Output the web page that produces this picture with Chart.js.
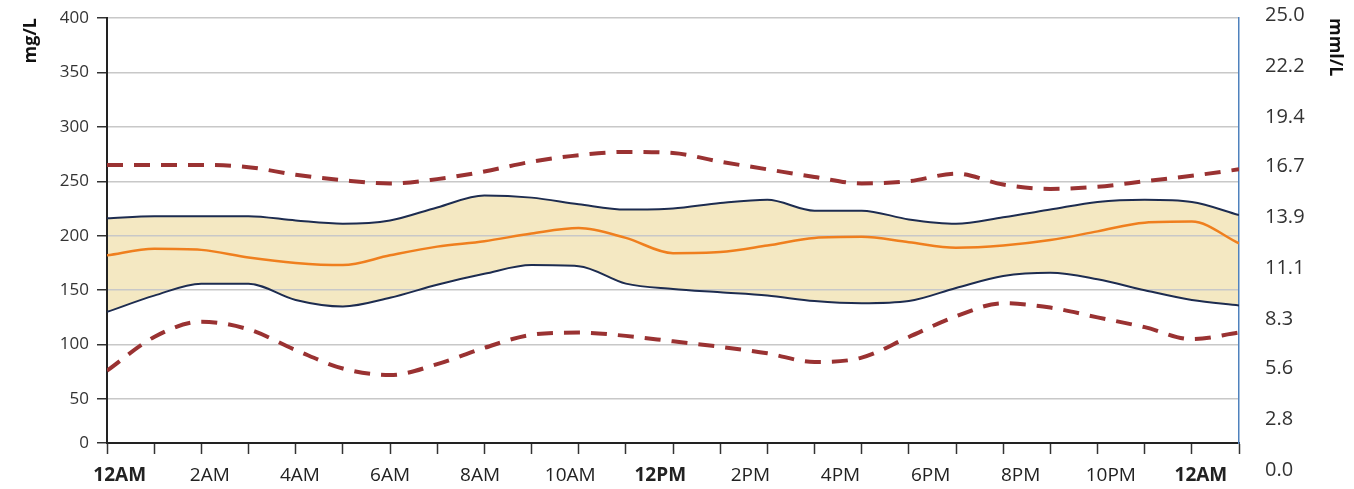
<!DOCTYPE html>
<html>
<head>
<meta charset="utf-8">
<title>Daily glucose profile</title>
<script src="https://cdn.jsdelivr.net/npm/chart.js@4/dist/chart.umd.min.js"></script>
<style>
    html, body { margin: 0; padding: 0; background: #ffffff; }
    #chartBox { position: relative; width: 1354px; height: 489px; }
</style>
</head>
<body>
<div id="chartBox"><canvas id="glucoseChart"></canvas></div>
<script>
// Hour of the day for every reading (0 = midnight, 24 = next midnight)
const hours = [0, 1, 2, 3, 4, 5, 6, 7, 8, 9, 10, 11, 12, 13, 14, 15, 16, 17, 18, 19, 20, 21, 22, 23, 24];

// Outer (dashed) limits, mg/L
const upperDashed = [265, 265, 265, 263, 256, 251, 248, 252, 259, 268, 274, 277, 276, 268, 261, 254, 248, 250, 257, 247, 243, 245, 250, 255, 261];
const lowerDashed = [76, 107, 121, 114, 95, 78, 72, 82, 97, 109, 111, 108, 103, 98, 92, 84, 88, 107, 126, 138, 134, 125, 116, 105, 111];

// Inner band (solid navy lines) and median (orange), mg/L
const upperBand = [216, 218, 218, 218, 214, 211, 214, 226, 237, 235, 229, 224, 225, 230, 233, 223, 223, 215, 211, 217, 224, 231, 233, 231, 219];
const median = [182, 188, 187, 180, 175, 173, 182, 190, 195, 202, 207, 198, 184, 185, 191, 198, 199, 194, 189, 191, 196, 204, 212, 213, 193];
const lowerBand = [130, 145, 156, 156, 141, 135, 143, 155, 165, 173, 172, 156, 151, 148, 145, 140, 138, 140, 152, 163, 166, 160, 150, 141, 136];

// Tick labels
const mgTicks = [0, 50, 100, 150, 200, 250, 300, 350, 400];
const mmolTicks = [0.0, 2.8, 5.6, 8.3, 11.1, 13.9, 16.7, 19.4, 22.2, 25.0];
const timeLabels = ['12AM', '2AM', '4AM', '6AM', '8AM', '10AM', '12PM', '2PM', '4PM', '6PM', '8PM', '10PM', '12AM'];

const FONT = "'Open Sans', 'DejaVu Sans', sans-serif";
const NAVY = '#1d2c50';
const MAROON = '#9a3232';

// the drawn x axis sits a little above the 0 gridline position of the picture
const mgAxisMin = 9.6;

/**
 * Pair the hourly values with their hour for a linear x scale
 * @param {Array} values - one value per hour
 * @returns {Array} points
 */
function toPoints(values) {
    return values.map((v, i) => ({ x: hours[i], y: v }));
}

function lineDataset(label, values, color, width, extra = {}) {
    return {
        label: label,
        data: toPoints(values),
        borderColor: color,
        borderWidth: width,
        pointRadius: 0,
        cubicInterpolationMode: 'monotone',
        fill: false,
        ...extra
    };
}

/**
 * Fix the size of a vertical axis and drop the label overhang padding,
 * so the plot area lands where it is in the picture
 */
function fixWidth(width) {
    return (scale) => {
        scale.width = width;
        scale.paddingTop = 0;
        scale.paddingBottom = 0;
    };
}

const ctx = document.getElementById('glucoseChart').getContext('2d');

new Chart(ctx, {
    type: 'line',
    data: {
        datasets: [
            lineDataset('Upper limit', upperDashed, MAROON, 4, { borderDash: [16, 11] }),
            lineDataset('Upper band', upperBand, NAVY, 2, { fill: '+2', backgroundColor: '#f4e8c2' }),
            lineDataset('Median', median, '#ef7f1e', 2.5),
            lineDataset('Lower band', lowerBand, NAVY, 2),
            lineDataset('Lower limit', lowerDashed, MAROON, 4, { borderDash: [16, 11] })
        ]
    },
    options: {
        responsive: true,
        maintainAspectRatio: false,
        animation: false,
        layout: { padding: { top: 18, left: 0, right: 0, bottom: 0 } },
        plugins: {
            legend: { display: false },
            tooltip: { enabled: false },
            filler: { drawTime: 'beforeDraw' }
        },
        scales: {
            // hourly tick marks under the plot
            x: {
                type: 'linear',
                position: 'bottom',
                weight: 0,
                min: 0,
                max: 24,
                ticks: { display: false, stepSize: 1 },
                grid: { drawOnChartArea: false, drawTicks: true, tickLength: 11, tickColor: '#333', tickWidth: 1.5 },
                border: { color: '#222', width: 2 },
                afterFit: (scale) => { scale.height = 11; }
            },
            // time labels, one every two hours
            xl: {
                type: 'linear',
                position: 'bottom',
                weight: 1,
                min: -0.141,
                max: 12.423,
                afterBuildTicks: (scale) => {
                    scale.ticks = timeLabels.map((t, i) => ({ value: i }));
                },
                ticks: {
                    autoSkip: false,
                    maxRotation: 0,
                    padding: 10,
                    color: '#222',
                    font: (c) => ({
                        family: FONT,
                        size: 19,
                        weight: /^12/.test(timeLabels[c.index]) ? 'bold' : 'normal'
                    }),
                    callback: (value, index) => timeLabels[index]
                },
                grid: { display: false, drawTicks: false },
                border: { display: false },
                afterFit: (scale) => { scale.height = 35; }
            },
            y: {
                type: 'linear',
                position: 'left',
                min: mgAxisMin,
                max: 400,
                afterBuildTicks: (scale) => {
                    scale.ticks = mgTicks.map(v => ({ value: Math.max(v, mgAxisMin) }));
                },
                ticks: {
                    padding: 8,
                    color: '#333',
                    font: { family: FONT, size: 17 },
                    callback: (value, index) => String(mgTicks[index])
                },
                grid: { color: '#c8c8c8', lineWidth: 1.5, tickLength: 10, tickColor: '#333', tickWidth: 1.5 },
                border: { color: '#222', width: 2 },
                title: {
                    display: true,
                    text: 'mg/L',
                    align: 'end',
                    color: '#111',
                    font: { family: FONT, size: 18, weight: 'bold' },
                    padding: { top: 20, bottom: 0 }
                },
                afterFit: fixWidth(107)
            },
            y1: {
                type: 'linear',
                position: 'right',
                min: 1.48,
                max: 24.84,
                afterBuildTicks: (scale) => {
                    scale.ticks = mmolTicks.map(v => ({ value: v }));
                },
                ticks: {
                    padding: 26,
                    color: '#333',
                    font: { family: FONT, size: 20 },
                    callback: (value) => Number(value).toFixed(1)
                },
                grid: { display: false, drawTicks: false },
                border: { color: '#4f81bd', width: 1.5 },
                title: {
                    display: true,
                    text: 'mml/L',
                    align: 'end',
                    color: '#111',
                    font: { family: FONT, size: 18, weight: 'bold' },
                    padding: { top: 8, bottom: 0 }
                },
                afterFit: fixWidth(115)
            }
        }
    }
});
</script>
</body>
</html>
